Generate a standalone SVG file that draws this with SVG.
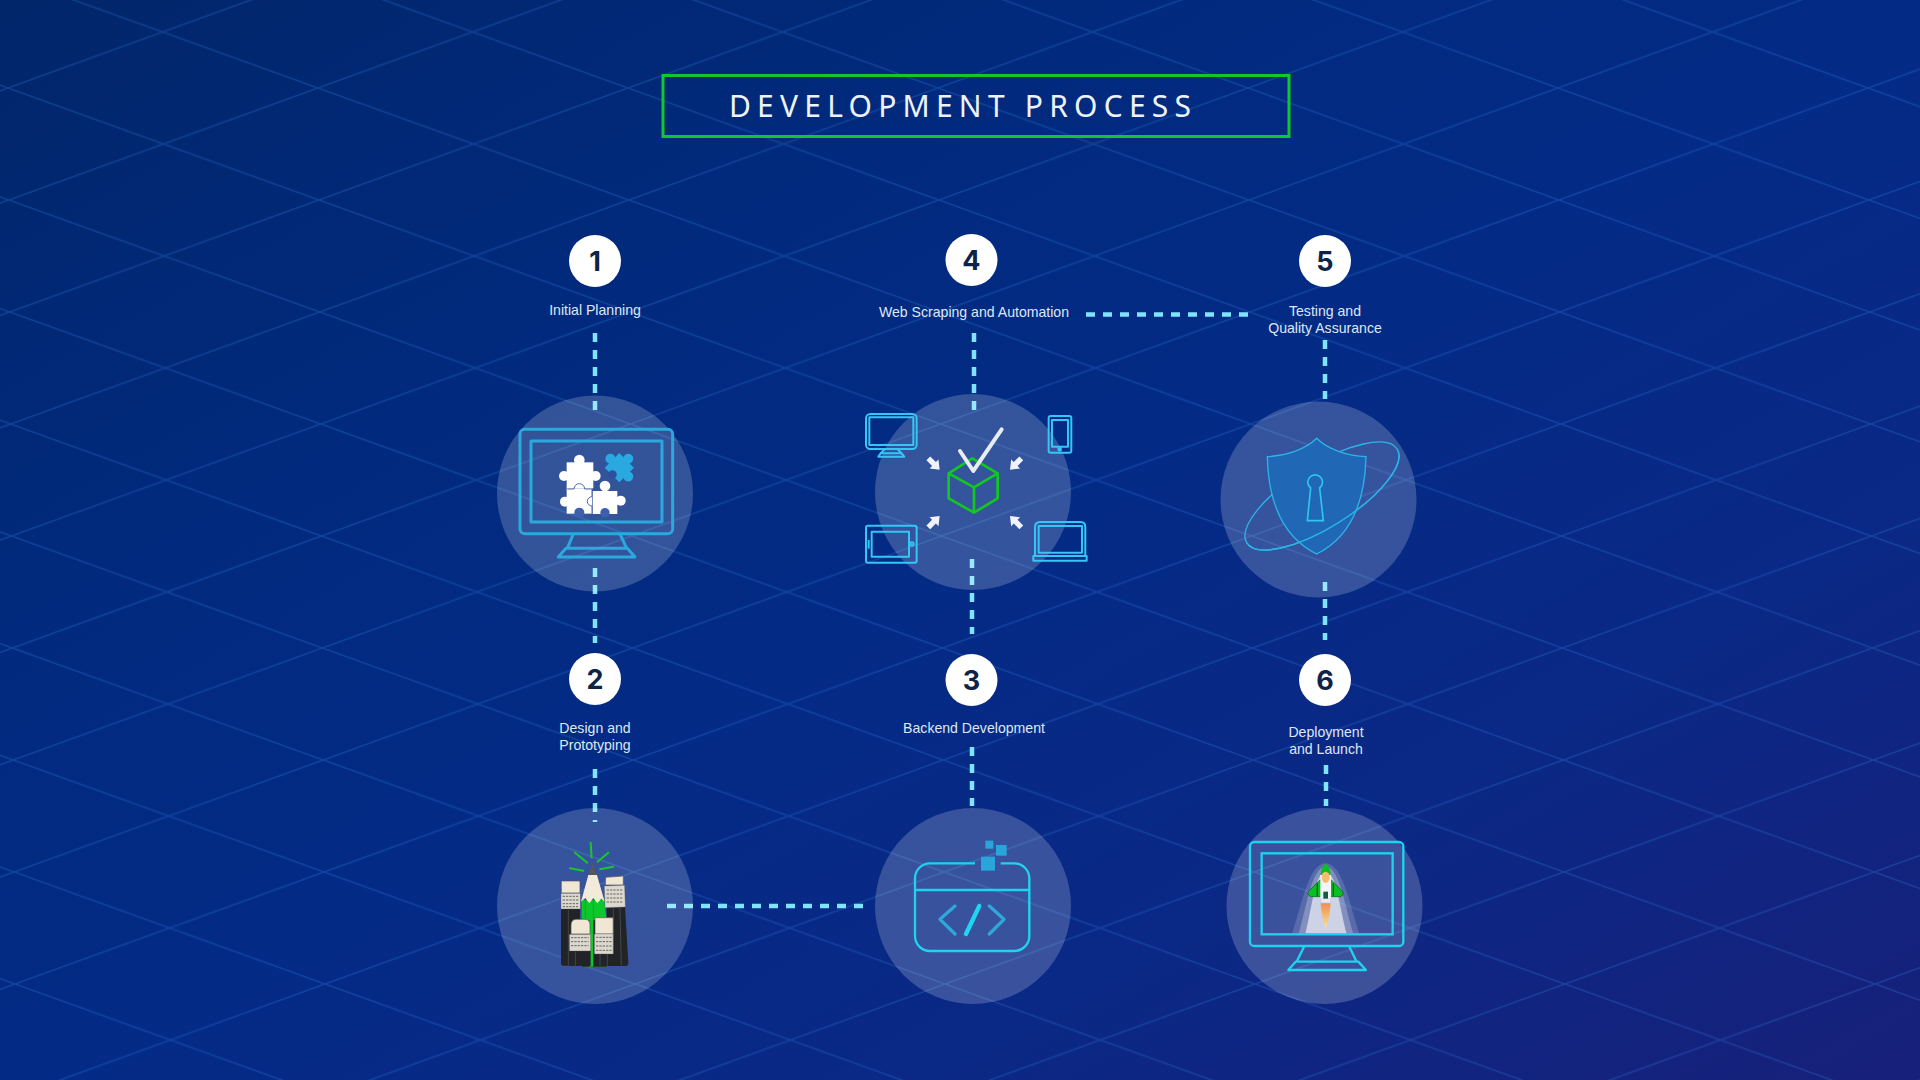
<svg xmlns="http://www.w3.org/2000/svg" width="1920" height="1080" viewBox="0 0 1920 1080">
<defs>
<linearGradient id="bg" x1="0" y1="0" x2="1" y2="1"><stop offset="0" stop-color="#01266a"/><stop offset=".3" stop-color="#012a7e"/><stop offset=".5" stop-color="#032b85"/><stop offset=".75" stop-color="#0b2885"/><stop offset="1" stop-color="#17207a"/></linearGradient>
<pattern id="grid" patternUnits="userSpaceOnUse" patternTransform="skewX(.45) translate(7.300 88)" width="310" height="112"><path d="M0 0L310 112M0 112L310 0" fill="none" stroke="#2f80e0" stroke-width="1.500" stroke-opacity=".3"/></pattern>
<linearGradient id="fl" x1="0" y1="0" x2="0" y2="1"><stop offset="0" stop-color="#f08f50"/><stop offset="1" stop-color="#fbe39a"/></linearGradient>
<g id="arrow"><path d="M-24 -8H0V-19L24 0L0 19V8H-24Z"/></g>
<clipPath id="front"><path d="M0 498L700 60V600H0Z"/></clipPath>
</defs>
<style>
text{font-family:"Liberation Sans",Arial,sans-serif}
.lbl{font-size:14.100px;fill:#dfe7f6;text-anchor:middle}
.num{font-family:"Inter","Noto Sans",sans-serif;font-size:27px;font-weight:700;fill:#0e2348;text-anchor:middle}
.badge{fill:#fff}
.disc{fill:#fff;fill-opacity:.195}
.dash{fill:none;stroke:#7fe4ff;stroke-width:4.500;stroke-dasharray:9 8}
.ico{fill:none;stroke:#2ba9de;stroke-width:9;stroke-linejoin:round}
.dev{fill:none;stroke:#35c6f5;stroke-width:6;stroke-linejoin:round}
.ray{stroke:#18c72c;stroke-width:6;stroke-linecap:round}
.paper{fill:#dcd8ce;stroke:#555}
.cream{fill:#efe6d4;stroke:#555;stroke-width:2}
.scr{fill:none;stroke:#666;stroke-width:3;stroke-dasharray:7 3}
.black{fill:#222326}
.stripe{stroke:#55585c;stroke-width:2}
.cy{fill:none;stroke:#1fd3ef}
</style>
<g id="background">
<rect width="1920" height="1080" fill="url(#bg)"/>
<rect width="1920" height="1080" fill="url(#grid)"/>
</g>
<g id="title">
<rect x="663" y="75.500" width="626" height="61" fill="none" stroke="#10c82e" stroke-width="3"/>
<text x="729" y="117" font-size="30" textLength="462" lengthAdjust="spacing" style="font-family:'Noto Sans','Open Sans',sans-serif" fill="#eef3fb">DEVELOPMENT PROCESS</text>
</g>
<g id="connectors" class="dash">
<path d="M595 333V418"/>
<path d="M595 568V643"/>
<path d="M595 769V822"/>
<path d="M667 906H864"/>
<path d="M972 559V634"/>
<path d="M972 747V806"/>
<path d="M974 333V410"/>
<path d="M1086 314.500H1249"/>
<path d="M1325 340V399"/>
<path d="M1325 582V640"/>
<path d="M1326 765V806"/>
</g>
<g id="node1">
<circle class="disc" cx="595" cy="493.500" r="98"/>
<circle class="badge" cx="595" cy="261" r="26"/><text class="num" x="595" y="271">1</text>
<text class="lbl" x="595" y="315">Initial Planning</text>
<g transform="translate(480 380) scale(.3333)">
<rect class="ico" x="120" y="148" width="458" height="313" rx="14"/>
<rect class="ico" x="153" y="183" width="393" height="243"/>
<path class="ico" d="M280 462L262 505M420 462L440 505M235 531L258 505H442L465 531Z"/>
<g fill="#fff">
<rect x="260" y="247" width="80" height="78"/><circle cx="298" cy="240" r="16"/><circle cx="252" cy="288" r="15"/><circle cx="347" cy="288" r="15"/>
<rect x="260" y="325" width="76" height="76"/><circle cx="255" cy="365" r="15"/>
<rect x="338" y="333" width="74" height="69"/><circle cx="375" cy="318" r="16"/><circle cx="422" cy="362" r="15"/>
</g>
<g fill="#3e60ac">
<circle cx="298" cy="398" r="15"/><circle cx="375" cy="398" r="14"/>
</g>
<path d="M262 327H282A16 16 0 0 1 314 327H336V350A14 14 0 0 0 336 378V401" fill="none" stroke="#52699f" stroke-width="3"/>
<g fill="#29a9e0" transform="translate(418 263) rotate(45)">
<rect x="-31" y="-31" width="62" height="62"/><circle cx="0" cy="-38" r="15"/><circle cx="-38" cy="0" r="15"/><circle cx="38" cy="0" r="15"/><circle cx="0" cy="29" r="13" fill="#2f4f9e"/>
</g>
</g>
</g>
<g id="node2">
<circle class="disc" cx="595" cy="906" r="98"/>
<circle class="badge" cx="595" cy="679" r="26"/><text class="num" x="595" y="689">2</text>
<text class="lbl" x="595" y="733">Design and</text><text class="lbl" x="595" y="750">Prototyping</text>
<g transform="translate(500 820) scale(.3333)">
<g class="ray"><path d="M272 68L275 112M225 98L262 128M325 98L293 125M210 145L250 152M340 140L300 148"/></g>
<path class="black" d="M183 262H240V437H190Q183 437 183 428ZM320 258H375L385 430Q385 438 378 438H320Z"/>
<path d="M245 240L312 240L320 300V440H245Z" fill="#0cc82a"/>
<path d="M278 128L265 165H291Z" fill="#56585c"/>
<path d="M265 165H291L314 245L304 236L292 250L280 234L268 250L256 234L243 245Z" fill="#f3ead9"/>
<path d="M245 300H320V440H245Z" class="black"/>
<path d="M268 300H280V440H268Z" fill="#0cc82a"/>
<path d="M280 240V300M256 240V300" stroke="#0a9e24" stroke-width="2"/>
<rect class="cream" x="184" y="183" width="56" height="36" rx="3"/>
<rect class="paper" x="183" y="220" width="58" height="47"/>
<path class="scr" d="M188 229H236M188 240H236M188 251H236M188 260H234"/>
<path class="cream" d="M317 172L370 168V195H316Z"/>
<rect class="paper" x="314" y="197" width="61" height="65" transform="rotate(-2 344 230)"/>
<path class="scr" d="M320 210H368M320 222H368M320 234H368M320 246H368"/>
<path class="black" d="M210 390H272V437H210ZM283 400H340V437H283Z"/>
<path class="cream" d="M213 342V315Q213 298 230 298H255Q270 298 270 315V342Z"/>
<rect class="paper" x="208" y="343" width="64" height="50"/>
<path class="scr" d="M213 353H266M213 365H266M213 377H266"/>
<path class="cream" d="M285 293H340V342H285Z"/>
<rect class="paper" x="283" y="342" width="57" height="60"/>
<path class="scr" d="M288 352H335M288 365H335M288 378H335M288 391H335"/>
<path class="stripe" d="M205 270V437M226 395V437M360 265L364 437M300 402V437M322 402V437M340 265V400"/>
</g>
</g>
<g id="node3">
<circle class="disc" cx="973" cy="906" r="98"/>
<circle class="badge" cx="971.500" cy="680" r="26"/><text class="num" x="971.500" y="690">3</text>
<text class="lbl" x="974" y="733">Backend Development</text>
<g transform="translate(880 820) scale(.3333)">
<path class="cy" stroke-width="7" d="M285 130H150A45 45 0 0 0 105 175V348A45 45 0 0 0 150 393H403A45 45 0 0 0 448 348V175A45 45 0 0 0 403 130H362M105 210H448"/>
<path d="M225 258L180 298L225 342M328 258L372 298L328 342" fill="none" stroke="#2fa7d8" stroke-width="10" stroke-linecap="round" stroke-linejoin="round"/>
<path d="M298 258L258 342" stroke="#1fd5f0" stroke-width="13" stroke-linecap="round"/>
<g fill="#2aa5dc"><rect x="303" y="110" width="42" height="42"/><rect x="348" y="75" width="32" height="32"/><rect x="316" y="62" width="24" height="24"/></g>
</g>
</g>
<g id="node4">
<circle class="disc" cx="973" cy="492" r="98"/>
<circle class="badge" cx="971.500" cy="260" r="26"/><text class="num" x="971.500" y="270">4</text>
<text class="lbl" x="974" y="317">Web Scraping and Automation</text>
<g transform="translate(850 390) scale(.3333)">
<rect class="dev" x="48" y="72" width="152" height="105" rx="13"/><rect class="dev" x="58" y="82" width="132" height="83"/>
<path class="dev" d="M105 177L92 190H155L142 177M92 190L85 200H163L155 190"/>
<rect class="dev" x="596" y="78" width="68" height="110" rx="6"/><rect class="dev" x="606" y="90" width="48" height="80"/><circle cx="629" cy="178" r="4" class="dev"/>
<rect class="dev" x="48" y="407" width="152" height="111" rx="6"/><rect class="dev" x="65" y="425" width="112" height="75"/><circle class="dev" cx="186" cy="462" r="5"/><path class="dev" d="M56 450V476"/>
<path class="dev" d="M555 498V412Q555 396 571 396H691Q706 396 706 412V498"/><rect class="dev" x="566" y="408" width="130" height="80"/><rect class="dev" x="550" y="498" width="160" height="14"/>
<g fill="#f0f3fb">
<use href="#arrow" transform="translate(252 222) rotate(45)"/><use href="#arrow" transform="translate(497 222) rotate(135)"/><use href="#arrow" transform="translate(252 395) rotate(-45)"/><use href="#arrow" transform="translate(497 395) rotate(-135)"/>
</g>
<path d="M367 205L443 250V325L372 368L296 325V250ZM296 250L372 292L443 250M372 292V368" fill="none" stroke="#12c820" stroke-width="8" stroke-linejoin="round"/>
<path d="M330 183L370 243L455 118" fill="none" stroke="#e8ecf4" stroke-width="12" stroke-linecap="round" stroke-linejoin="round"/>
</g>
</g>
<g id="node5">
<circle class="disc" cx="1318.500" cy="499.500" r="98"/>
<circle class="badge" cx="1325" cy="261" r="26"/><text class="num" x="1325" y="271">5</text>
<text class="lbl" x="1325" y="316">Testing and</text><text class="lbl" x="1325" y="333">Quality Assurance</text>
<g transform="translate(1210 400) scale(.3333)">
<ellipse cx="336" cy="288" rx="266" ry="94" transform="rotate(-32 336 288)" fill="none" stroke="#2bb5e6" stroke-width="4"/>
<path d="M320 115C285 150 225 168 172 170C175 300 215 410 320 462C425 410 465 300 468 170C415 168 355 150 320 115Z" fill="#2067b5" stroke="#2bb5e6" stroke-width="4"/>
<g clip-path="url(#front)"><ellipse cx="336" cy="288" rx="266" ry="94" transform="rotate(-32 336 288)" fill="none" stroke="#2bb5e6" stroke-width="4"/></g>
<path d="M302 264A22 22 0 1 1 329 264L340 362H292Z" fill="none" stroke="#2fc5ee" stroke-width="5"/>
</g>
</g>
<g id="node6">
<circle class="disc" cx="1324.500" cy="906" r="98"/>
<circle class="badge" cx="1325" cy="680" r="26"/><text class="num" x="1325" y="690">6</text>
<text class="lbl" x="1326" y="737">Deployment</text><text class="lbl" x="1326" y="754">and Launch</text>
<g transform="translate(1230 820) scale(.3333)">
<path d="M186 341C215 260 235 130 287 130C339 130 360 260 388 341Z" fill="#fff" fill-opacity=".15"/>
<path d="M206 341C230 260 245 140 287 140C329 140 345 260 370 341Z" fill="#fff" fill-opacity=".25"/>
<path d="M226 341C245 270 255 155 287 155C319 155 330 270 350 341Z" fill="#fff" fill-opacity=".6"/>
<path d="M272 250H302C300 280 293 310 287 325C281 310 274 280 272 250Z" fill="url(#fl)"/>
<path d="M270 180L235 215Q232 228 245 230H330Q342 228 338 215L304 180Z" fill="#0cbf20" stroke="#0a5a20" stroke-width="2"/>
<path d="M271 165H303V235H271Z" fill="#f4f5fa"/>
<path d="M272 165C272 150 280 135 287 132C294 135 302 150 302 165Z" fill="#0cbf20"/>
<ellipse cx="287" cy="172" rx="12" ry="17" fill="#f5bd6d"/>
<path d="M262 190V228M310 190V228" stroke="#0a5a20" stroke-width="4"/>
<path d="M280 215H294V240H280Z" fill="#155c3a"/><path d="M274 236H300V247H274Z" fill="#e8e8f2"/>
<rect class="cy" stroke-width="7" x="60" y="66" width="460" height="312" rx="13"/>
<rect class="cy" stroke-width="7" x="95" y="100" width="393" height="243"/>
<path class="cy" stroke-width="7" stroke-linejoin="round" d="M222 380L200 425M358 380L380 425M175 450L197 425H385L408 450Z"/>
</g>
</g>
</svg>
